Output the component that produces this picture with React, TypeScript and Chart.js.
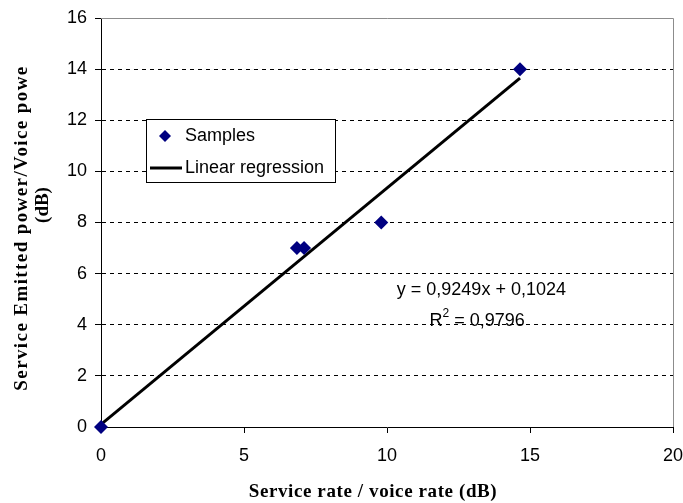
import React, { useEffect, useRef } from 'react';
import { Chart, registerables } from 'chart.js';

Chart.register(...registerables);

// Data
const sampleX = [0, 6.85, 7.1, 9.8, 14.65];
const sampleY = [0, 7, 7, 8, 14];
const regressionX = [0, 14.65];
const regressionY = [0.1, 13.65];
const xTickValues = [0, 5, 10, 15, 20];
const yTickValues = [0, 2, 4, 6, 8, 10, 12, 14, 16];

const seriesNames = ['Samples', 'Linear regression'];
const equationText = 'y = 0,9249x + 0,1024';
const r2Value = '0,9796';
const xTitle = 'Service rate / voice rate (dB)';
const yTitleLines = ['Service Emitted power/Voice powe', '(dB)'];

const NAVY = '#000080';
const SANS = '"Liberation Sans", Arial, sans-serif';
const SERIF = '"Liberation Serif", "Times New Roman", serif';

const decorPlugin = {
  id: 'decor',
  afterDraw(chart: any) {
    const { ctx, chartArea: a, scales } = chart;
    const xs = scales.x;
    const ys = scales.y;
    ctx.save();
    // top and right plot border (grey)
    ctx.strokeStyle = '#8c8c8c';
    ctx.lineWidth = 1;
    ctx.setLineDash([]);
    ctx.beginPath();
    ctx.moveTo(a.left, Math.round(a.top) + 0.5);
    ctx.lineTo(Math.round(a.right) + 0.5, Math.round(a.top) + 0.5);
    ctx.lineTo(Math.round(a.right) + 0.5, a.bottom);
    ctx.stroke();

    // legend box
    const lx = 146.5, ly = 119.5, lw = 189, lh = 63;
    ctx.fillStyle = '#ffffff';
    ctx.fillRect(lx, ly, lw, lh);
    ctx.strokeStyle = '#000000';
    ctx.strokeRect(lx, ly, lw, lh);
    // diamond
    const dx = 165, dy = 136, dr = 6;
    ctx.fillStyle = NAVY;
    ctx.beginPath();
    ctx.moveTo(dx, dy - dr);
    ctx.lineTo(dx + dr, dy);
    ctx.lineTo(dx, dy + dr);
    ctx.lineTo(dx - dr, dy);
    ctx.closePath();
    ctx.fill();
    // line sample
    ctx.strokeStyle = '#000000';
    ctx.lineWidth = 3;
    ctx.beginPath();
    ctx.moveTo(150, 168);
    ctx.lineTo(182, 168);
    ctx.stroke();
    ctx.fillStyle = '#000000';
    ctx.font = `18px ${SANS}`;
    ctx.textBaseline = 'middle';
    ctx.textAlign = 'left';
    ctx.fillText(seriesNames[0], 185, 136);
    ctx.fillText(seriesNames[1], 185, 168);

    // regression equation
    ctx.textAlign = 'center';
    const ex = xs.getPixelForValue(13.3);
    const ey = ys.getPixelForValue(5.35);
    ctx.fillText(equationText, ex, ey);
    // R^2 line
    const rx = xs.getPixelForValue(13.15);
    const ry = ys.getPixelForValue(4.15);
    ctx.textAlign = 'left';
    const partA = 'R';
    const partB = ' = ' + r2Value;
    ctx.font = `18px ${SANS}`;
    const wA = ctx.measureText(partA).width;
    const wB = ctx.measureText(partB).width;
    ctx.font = `12px ${SANS}`;
    const wS = ctx.measureText('2').width;
    const total = wA + wS + wB;
    let cx = rx - total / 2;
    ctx.font = `18px ${SANS}`;
    ctx.fillText(partA, cx, ry);
    cx += wA;
    ctx.font = `12px ${SANS}`;
    ctx.fillText('2', cx, ry - 7);
    cx += wS;
    ctx.font = `18px ${SANS}`;
    ctx.fillText(partB, cx, ry);

    // axis titles
    ctx.font = `bold 19px ${SERIF}`;
    ctx.textAlign = 'center';
    ctx.save();
    (ctx as any).letterSpacing = '0.6px';
    ctx.fillText(xTitle, (a.left + a.right) / 2 - 14, 492);
    ctx.restore();
    ctx.save();
    ctx.translate(22, 228);
    ctx.rotate(-Math.PI / 2);
    (ctx as any).letterSpacing = '1.4px';
    ctx.fillText(yTitleLines[0], 0, 0);
    ctx.restore();
    ctx.save();
    ctx.translate(43, 205);
    ctx.rotate(-Math.PI / 2);
    ctx.fillText(yTitleLines[1], 0, 0);
    ctx.restore();
    ctx.restore();
  },
};

export default function App() {
  const ref = useRef<HTMLCanvasElement | null>(null);
  useEffect(() => {
    document.body.style.margin = '0';
    const canvas = ref.current;
    if (!canvas) return;
    const chart = new Chart(canvas, {
      type: 'scatter',
      data: {
        datasets: [
          {
            type: 'line',
            label: seriesNames[1],
            data: regressionX.map((x, i) => ({ x, y: regressionY[i] })),
            borderColor: '#000000',
            borderWidth: 3,
            pointRadius: 0,
            fill: false,
            order: 2,
          } as any,
          {
            label: seriesNames[0],
            data: sampleX.map((x, i) => ({ x, y: sampleY[i] })),
            pointStyle: 'rectRot',
            pointRadius: 7,
            backgroundColor: NAVY,
            borderColor: NAVY,
            borderWidth: 0,
            clip: false,
            order: 1,
          } as any,
        ],
      },
      options: {
        animation: false,
        responsive: false,
        maintainAspectRatio: false,
        layout: { padding: { top: 18, right: 0, left: 0, bottom: 0 } },
        plugins: {
          legend: { display: false },
          tooltip: { enabled: false },
        },
        scales: {
          x: {
            type: 'linear',
            min: 0,
            max: 20,
            afterBuildTicks: (s: any) => {
              s.ticks = xTickValues.map((v) => ({ value: v }));
            },
            afterFit: (s: any) => {
              s.height = 76;
              s.paddingRight = 10;
              s.paddingLeft = 0;
            },
            grid: {
              drawOnChartArea: false,
              drawTicks: true,
              tickLength: 6,
              color: '#000000',
            },
            border: { color: '#000000', width: 1 },
            ticks: {
              color: '#000000',
              font: { family: SANS, size: 18 },
              padding: 12,
              maxRotation: 0,
            },
          },
          y: {
            type: 'linear',
            min: 0,
            max: 16,
            afterBuildTicks: (s: any) => {
              s.ticks = yTickValues.map((v) => ({ value: v }));
            },
            afterFit: (s: any) => {
              s.width = 101;
              s.paddingTop = 0;
              s.paddingBottom = 0;
            },
            grid: {
              drawOnChartArea: true,
              drawTicks: true,
              tickLength: 6,
              color: '#000000',
              tickBorderDash: [],
            },
            border: { color: '#000000', width: 1, dash: [4, 4] },
            ticks: {
              color: '#000000',
              font: { family: SANS, size: 18 },
              padding: 8,
            },
          },
        },
      },
      plugins: [decorPlugin],
    });
    return () => chart.destroy();
  }, []);
  return (
    <div style={{ width: 683, height: 503, background: '#fff' }}>
      <canvas ref={ref} width={683} height={503} style={{ display: 'block' }} />
    </div>
  );
}
